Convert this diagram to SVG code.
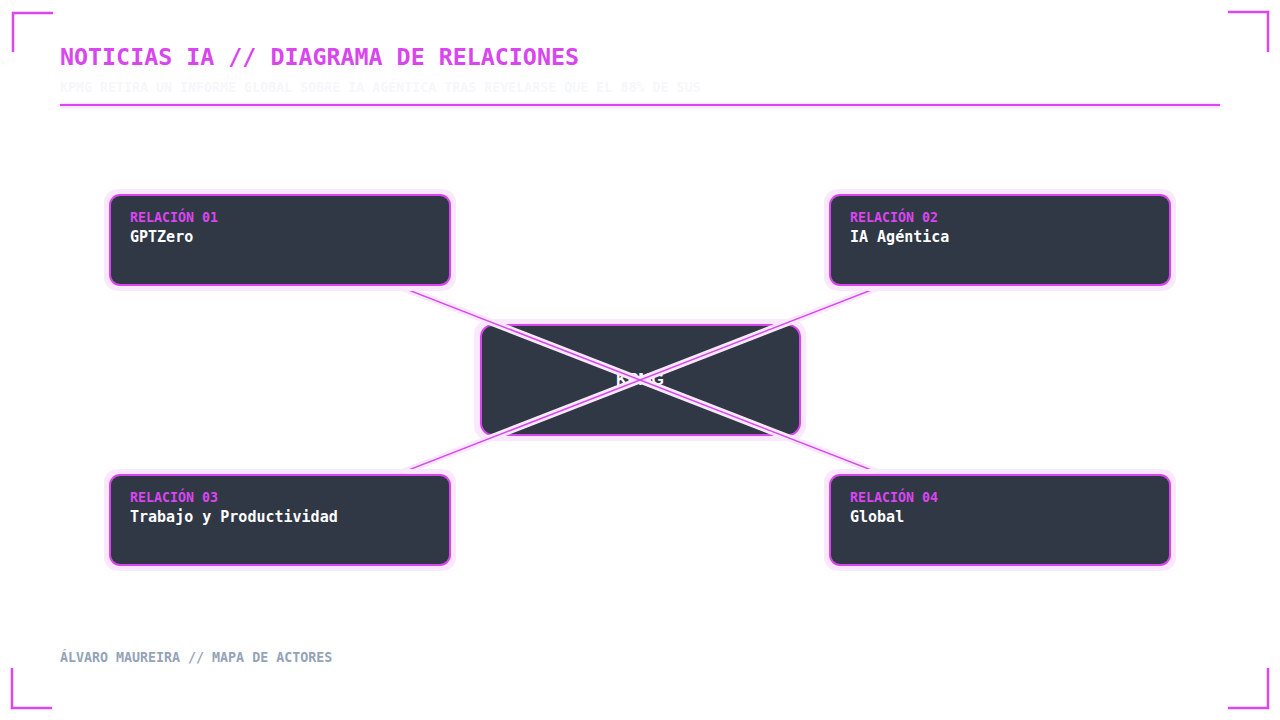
<svg xmlns="http://www.w3.org/2000/svg" width="1280" height="720" viewBox="0 0 1280 720">
<style>
.mono{font-family:"DejaVu Sans Mono","Liberation Mono",monospace;font-weight:bold}
.title{font-size:23.3px;fill:#d946ef}
.sub{font-size:13.3px;fill:#f5f7fa}
.foot{font-size:13.3px;fill:#94a3b8}
.lbl{font-size:13.3px;fill:#d946ef}
.name{font-size:15px;fill:#ffffff}
.glow{fill:#fae8ff}
.card{fill:#303745;stroke:#d946ef;stroke-width:2}
.corner{fill:none;stroke:#d946ef;stroke-width:2.5}
.halo{stroke:#fae8ff;stroke-width:7;fill:none}
.edge{stroke:#d946ef;stroke-width:1.5;fill:none}
</style>
<rect width="1280" height="720" fill="#ffffff"/>
<g id="corners">
<path class="corner" d="M13 52V13H53"/>
<path class="corner" d="M1228 12H1268V52"/>
<path class="corner" d="M12 668V708H52"/>
<path class="corner" d="M1268 668V708H1228"/>
</g>
<g id="header">
<text class="mono title" x="60" y="65">NOTICIAS IA // DIAGRAMA DE RELACIONES</text>
<text class="mono sub" x="60" y="92">KPMG RETIRA UN INFORME GLOBAL SOBRE IA AGÉNTICA TRAS REVELARSE QUE EL 88% DE SUS</text>
<line x1="60" y1="105.5" x2="1220" y2="105.5" stroke="#fae8ff" stroke-width="6"/>
<line x1="60" y1="105" x2="1220" y2="105" stroke="#d946ef" stroke-width="2"/>
</g>
<g id="center">
<rect class="glow" x="474" y="319" width="332" height="122" rx="16"/>
<rect class="card" x="481" y="325" width="319" height="110" rx="12"/>
<text x="640" y="385" text-anchor="middle" font-family="Liberation Sans, Arial, sans-serif" font-weight="bold" font-size="16" fill="#ffffff">KPMG</text>
</g>
<g id="connectors">
<line class="halo" x1="280" y1="240" x2="1000" y2="520"/>
<line class="halo" x1="1000" y1="240" x2="280" y2="520"/>
<line class="edge" x1="280" y1="240" x2="1000" y2="520"/>
<line class="edge" x1="1000" y1="240" x2="280" y2="520"/>
</g>
<g id="node1">
<rect class="glow" x="104" y="189" width="352" height="102" rx="14"/>
<rect class="card" x="110" y="195" width="340" height="90" rx="10"/>
<text class="mono lbl" x="130" y="222">RELACIÓN 01</text>
<text class="mono name" x="130" y="242">GPTZero</text>
</g>
<g id="node2">
<rect class="glow" x="824" y="189" width="352" height="102" rx="14"/>
<rect class="card" x="830" y="195" width="340" height="90" rx="10"/>
<text class="mono lbl" x="850" y="222">RELACIÓN 02</text>
<text class="mono name" x="850" y="242">IA Agéntica</text>
</g>
<g id="node3">
<rect class="glow" x="104" y="469" width="352" height="102" rx="14"/>
<rect class="card" x="110" y="475" width="340" height="90" rx="10"/>
<text class="mono lbl" x="130" y="502">RELACIÓN 03</text>
<text class="mono name" x="130" y="522">Trabajo y Productividad</text>
</g>
<g id="node4">
<rect class="glow" x="824" y="469" width="352" height="102" rx="14"/>
<rect class="card" x="830" y="475" width="340" height="90" rx="10"/>
<text class="mono lbl" x="850" y="502">RELACIÓN 04</text>
<text class="mono name" x="850" y="522">Global</text>
</g>
<g id="footer">
<text class="mono foot" x="60" y="662">ÁLVARO MAUREIRA // MAPA DE ACTORES</text>
</g>
</svg>
